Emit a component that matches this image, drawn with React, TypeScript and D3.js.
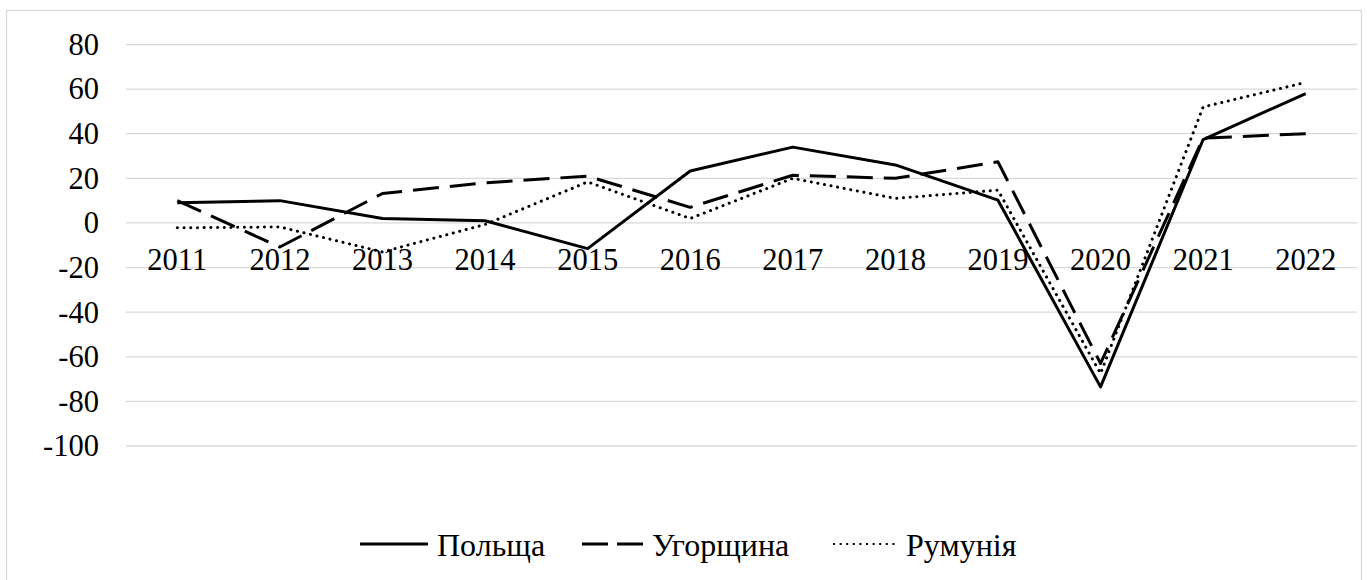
import React from "react";
import * as d3 from "d3";

const years = ["2011", "2012", "2013", "2014", "2015", "2016", "2017", "2018", "2019", "2020", "2021", "2022"];
const poland = [9, 10, 2, 1, -11.5, 23.3, 34, 26, 10.2, -73.5, 37.4, 58];
const hungary = [10, -10.8, 13.2, 18, 21, 7, 21.4, 20, 27.4, -63, 38, 40];
const romania = [-2.2, -1.8, -13, -0.7, 18.4, 2, 20, 11, 14.7, -67.5, 52, 63];
const yTicks = [80, 60, 40, 20, 0, -20, -40, -60, -80, -100];

const seriesNames = ["Польща", "Угорщина", "Румунія"];

const width = 1367;
const height = 580;
const fontStyle = { fontFamily: "'Liberation Serif', 'Times New Roman', serif" };

const styles = [
  { width: 3, dash: null, cap: "butt" },
  { width: 3, dash: "26,11", cap: "butt" },
  { width: 3, dash: "0.1,6.6", cap: "round" },
];

const App = () => {
  const x = d3.scaleBand().domain(years).range([126, 1357]);
  const y = d3.scaleLinear().domain([-100, 80]).range([446, 44.5]);

  const line = d3
    .line<number>()
    .x((d, i) => (x(years[i]) as number) + x.bandwidth() / 2)
    .y((d) => y(d));

  const data = [poland, hungary, romania];

  // legend: line start, line length
  const legend = [
    { x0: 360, len: 68 },
    { x0: 582, len: 61 },
    { x0: 833, len: 64 },
  ];

  return (
    <svg
      width={width}
      height={height}
      style={{ position: "absolute", left: 0, top: 0, background: "#fff" }}
    >
      <rect x={6.5} y={10.5} width={1355} height={620} fill="#fff" stroke="#d9d9d9" strokeWidth={1.3} />

      {yTicks.map((t) => (
        <g key={t}>
          <line x1={126} x2={1357} y1={y(t)} y2={y(t)} stroke="#d9d9d9" strokeWidth={1.3} />
          <text x={99} y={y(t)} dy="0.34em" textAnchor="end" style={fontStyle} fontSize={30.5} fill="#000">
            {t}
          </text>
        </g>
      ))}

      {years.map((yr) => (
        <text
          key={yr}
          x={(x(yr) as number) + x.bandwidth() / 2}
          y={y(0) + 47.5}
          textAnchor="middle"
          style={fontStyle}
          fontSize={30.5}
          fill="#000"
        >
          {yr}
        </text>
      ))}

      {data.map((s, i) => (
        <path
          key={i}
          d={line(s) || ""}
          fill="none"
          stroke="#000"
          strokeWidth={styles[i].width}
          strokeDasharray={styles[i].dash || undefined}
          strokeLinecap={styles[i].cap as any}
          strokeLinejoin="round"
        />
      ))}

      {seriesNames.map((name, i) => (
        <g key={name}>
          <line
            x1={legend[i].x0}
            x2={legend[i].x0 + legend[i].len}
            y1={544}
            y2={544}
            stroke="#000"
            strokeWidth={i === 2 ? 2 : 3}
            strokeDasharray={i === 1 ? "26,9" : i === 2 ? "2,4.6" : undefined}
          />
          <text
            x={legend[i].x0 + legend[i].len + 9}
            y={556}
            style={fontStyle}
            fontSize={32}
            fill="#000"
          >
            {name}
          </text>
        </g>
      ))}
    </svg>
  );
};

export default App;
